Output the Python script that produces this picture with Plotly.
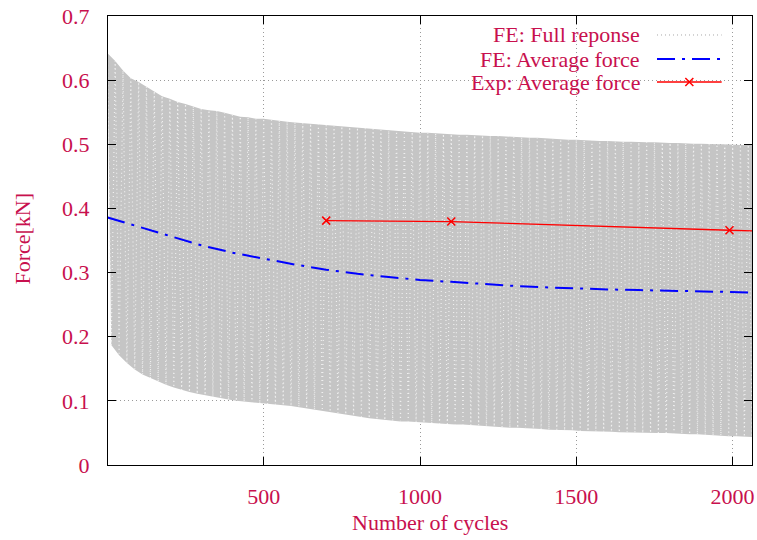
import plotly.graph_objects as go

# ---------------- data ----------------
# FE full response: upper peaks (every 25 cycles) and lower troughs (offset 12.5 cycles)
peak_cycles = list(range(0, 2076, 25))
peak_force = [
    0.642, 0.630, 0.615, 0.603, 0.597, 0.590, 0.583, 0.575, 0.571, 0.566,
    0.563, 0.559, 0.555, 0.553, 0.552, 0.549, 0.546, 0.543, 0.542, 0.540,
    0.540, 0.538, 0.537, 0.535, 0.534, 0.533, 0.532, 0.531, 0.530, 0.529,
    0.528, 0.527, 0.526, 0.525, 0.524, 0.522, 0.521, 0.520, 0.520, 0.519,
    0.518, 0.518, 0.517, 0.516, 0.516, 0.515, 0.515, 0.514, 0.514, 0.513,
    0.513, 0.512, 0.511, 0.511, 0.510, 0.510, 0.509, 0.509, 0.508, 0.507,
    0.507, 0.506, 0.506, 0.505, 0.505, 0.504, 0.504, 0.504, 0.503, 0.503,
    0.503, 0.502, 0.502, 0.502, 0.501, 0.501, 0.501, 0.500, 0.500, 0.500,
    0.499, 0.499, 0.499, 0.499,
]
trough_cycles = [c + 12.5 for c in peak_cycles]
trough_force = [
    0.187, 0.171, 0.159, 0.149, 0.141, 0.135, 0.130, 0.125, 0.121, 0.117,
    0.114, 0.111, 0.109, 0.106, 0.104, 0.102, 0.100, 0.099, 0.097, 0.096,
    0.095, 0.094, 0.093, 0.092, 0.091, 0.089, 0.087, 0.085, 0.083, 0.081,
    0.079, 0.077, 0.075, 0.073, 0.071, 0.070, 0.069, 0.068, 0.068, 0.067,
    0.066, 0.065, 0.064, 0.064, 0.063, 0.063, 0.062, 0.062, 0.061, 0.060,
    0.059, 0.058, 0.058, 0.057, 0.057, 0.056, 0.055, 0.055, 0.054, 0.054,
    0.053, 0.053, 0.052, 0.052, 0.052, 0.051, 0.051, 0.051, 0.050, 0.050,
    0.050, 0.050, 0.049, 0.049, 0.048, 0.048, 0.047, 0.046, 0.046, 0.045,
    0.045, 0.044, 0.044, 0.043,
]

# FE average force
fe_avg_cycles = [0, 100, 200, 300, 400, 500, 600, 700, 800, 900, 1000,
                 1100, 1200, 1300, 1400, 1500, 1600, 1700, 1800, 1900, 2000, 2062]
fe_avg_force = [0.386, 0.3715, 0.356, 0.3425, 0.331, 0.3215, 0.3125, 0.3045,
                0.298, 0.293, 0.2885, 0.2855, 0.282, 0.2792, 0.277, 0.275,
                0.2737, 0.2727, 0.2718, 0.271, 0.2698, 0.269]

# Experimental average force
exp_cycles = [700, 1100, 1990, 2400]
exp_force = [0.381, 0.3795, 0.366, 0.360]

x_ticks = [500, 1000, 1500, 2000]
y_ticks = [0, 0.1, 0.2, 0.3, 0.4, 0.5, 0.6, 0.7]
legend_labels = ["FE: Full reponse", "FE: Average force", "Exp: Average force"]

# ---------------- style ----------------
TXT = "#c8104e"
FONT = "Liberation Serif"
FS = 22
BLUE_DASH = "18px,7px,3px,7px"
GRID_DASH = "1px,3px"

full_x, full_y = [], []
for pc, pf, tc, tf in zip(peak_cycles, peak_force, trough_cycles, trough_force):
    full_x += [pc, tc]
    full_y += [pf, tf]

fig = go.Figure()

# band of the full response
fig.add_trace(go.Scatter(
    x=peak_cycles + trough_cycles[::-1], y=peak_force + trough_force[::-1],
    mode="lines", fill="toself", fillcolor="#c5c5c5",
    line=dict(width=0), hoverinfo="skip", showlegend=False))
# full response oscillation
fig.add_trace(go.Scatter(
    x=full_x, y=full_y, mode="lines",
    line=dict(color="#efefef", width=1.2, dash="1px,3px"),
    showlegend=False))
# FE average
fig.add_trace(go.Scatter(
    x=fe_avg_cycles, y=fe_avg_force, mode="lines",
    line=dict(color="#0000ff", width=2, dash=BLUE_DASH), showlegend=False))
# Experimental average
fig.add_trace(go.Scatter(
    x=exp_cycles, y=exp_force, mode="lines+markers",
    line=dict(color="#ff0000", width=1.3),
    marker=dict(symbol="x-thin", size=8, line=dict(color="#ff0000", width=1.5)),
    showlegend=False))

# legend key marker on an overlay axis
fig.add_trace(go.Scatter(
    x=[0.9027], y=[0.853], mode="markers", xaxis="x2", yaxis="y2",
    marker=dict(symbol="x-thin", size=8, line=dict(color="#ff0000", width=1.5)),
    showlegend=False, hoverinfo="skip"))

axis_common = dict(
    showline=True, linecolor="black", linewidth=1, mirror="ticks",
    ticks="inside", ticklen=8, tickcolor="black", tickwidth=1,
    showgrid=True, gridcolor="#9a9a9a", griddash=GRID_DASH, gridwidth=1,
    zeroline=False, ticklabeloverflow="allow",
    tickfont=dict(family=FONT, size=FS, color=TXT),
)

fig.update_layout(
    width=757, height=540,
    margin=dict(l=108, r=2, t=16, b=75),
    paper_bgcolor="white", plot_bgcolor="white",
    showlegend=False,
    xaxis=dict(range=[2, 2062], tickvals=x_ticks, ticklabelstandoff=12, **axis_common),
    yaxis=dict(range=[0, 0.7], tickvals=y_ticks,
               ticktext=[("%g" % v) for v in y_ticks], ticklabelstandoff=13, **axis_common),
    xaxis2=dict(range=[0, 1], overlaying="x", visible=False),
    yaxis2=dict(range=[0, 1], overlaying="y", visible=False),
)

# opaque key box (hides grid behind the key)
fig.add_shape(type="rect", xref="paper", yref="paper", x0=0.4268, x1=1, y0=0.8218, y1=1,
              fillcolor="white", line=dict(width=0), layer="between")

# key
rows = [0.9577, 0.9042, 0.853]
key_styles = [dict(color="#a8a8a8", width=1, dash=GRID_DASH),
              dict(color="#0000ff", width=2, dash=BLUE_DASH),
              dict(color="#ff0000", width=1.3)]
for lab, yy, st in zip(legend_labels, rows, key_styles):
    fig.add_annotation(x=0.8293, y=yy, xref="paper", yref="paper", text=lab,
                       showarrow=False, xanchor="right", yanchor="middle",
                       font=dict(family=FONT, size=FS, color=TXT))
    fig.add_shape(type="line", xref="paper", yref="paper", x0=0.8525, x1=0.9529,
                  y0=yy, y1=yy, line=st, layer="above")

# axis titles
fig.add_annotation(x=0.5, y=-0.129, xref="paper", yref="paper", text="Number of cycles",
                   showarrow=False, xanchor="center", yanchor="middle",
                   font=dict(family=FONT, size=FS, color=TXT))
fig.add_annotation(x=-0.133, y=0.505, xref="paper", yref="paper", text="Force[kN]",
                   showarrow=False, textangle=-90, xanchor="center", yanchor="middle",
                   font=dict(family=FONT, size=FS, color=TXT))

fig.write_html("out.html")
